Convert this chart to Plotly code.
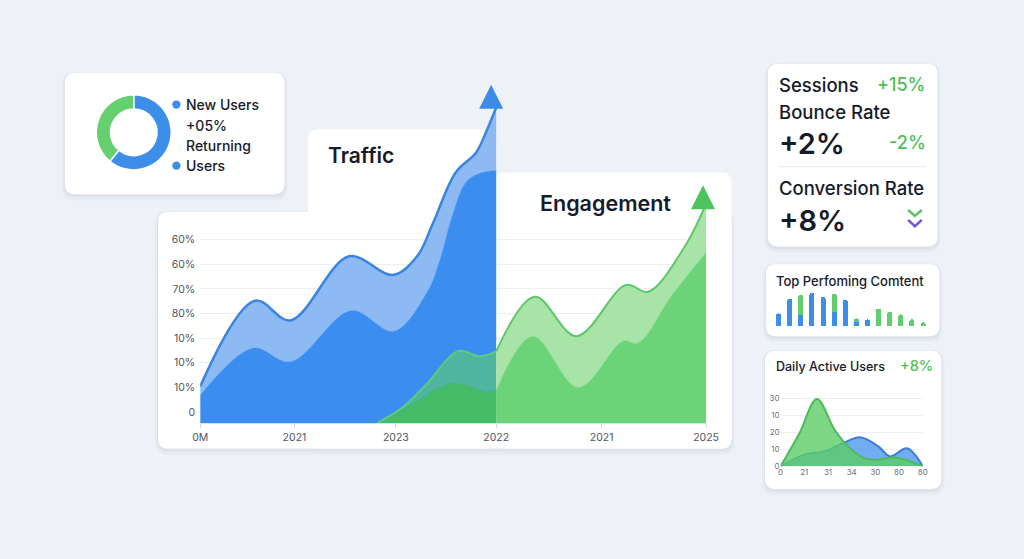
import plotly.graph_objects as go

W, H = 1024, 559

# ---------------- data: main Traffic / Engagement chart ----------------
main_x_tickvals = [0.0, 0.93, 1.93, 2.92, 3.96, 4.99]
main_x_ticktext = ["0M", "2021", "2023", "2022", "2021", "2025"]
main_y_tickvals = [0.44, 1.44, 2.44, 3.44, 4.44, 5.44, 6.44, 7.44]
main_y_ticktext = ["0", "10%", "10%", "10%", "80%", "70%", "60%", "60%"]

traffic_upper_x = [0.0, 0.54, 0.89, 1.47, 1.90, 2.14, 2.29, 2.52, 2.72, 2.83, 2.92]
traffic_upper_y = [1.48, 4.96, 4.16, 6.76, 6.00, 6.76, 8.04, 10.16, 10.96, 11.90, 12.80]
traffic_lower_x = [0.0, 0.52, 0.89, 1.49, 1.91, 2.24, 2.36, 2.48, 2.62, 2.75, 2.92]
traffic_lower_y = [1.12, 3.04, 2.48, 4.56, 3.72, 5.32, 6.56, 8.32, 9.76, 10.12, 10.24]

engage_upper_x = [1.75, 2.00, 2.23, 2.55, 2.76, 2.92, 3.30, 3.71, 4.20, 4.42, 4.78, 4.99]
engage_upper_y = [0.0, 0.64, 1.56, 2.92, 2.70, 2.90, 5.12, 3.52, 5.60, 5.32, 7.16, 8.90]
engage_lower_x = [1.78, 2.07, 2.49, 2.84, 2.92, 3.28, 3.73, 4.17, 4.32, 4.65, 4.99]
engage_lower_y = [0.0, 0.72, 1.60, 1.24, 1.32, 3.52, 1.44, 3.32, 3.24, 5.16, 6.92]
divider_x = 2.92

# ---------------- data: donut ----------------
donut_labels = ["New Users", "Returning Users"]
donut_values = [61, 39]

# ---------------- data: top performing content ----------------
tpc_blue = [13, 28, 11, 34, 30, 15, 27, 4, 7, 0, 0, 0, 0, 0]
tpc_green = [0, 0, 21, 0, 0, 18, 0, 4, 0, 18, 15, 12, 7, 4]

# ---------------- data: daily active users ----------------
dau_x_ticktext = ["0", "21", "31", "34", "30", "80", "80"]
dau_y_tickvals = [0, 10, 20, 30, 40]
dau_y_ticktext = ["0", "10", "20", "10", "30"]
dau_blue_x = [0, 1.03, 1.86, 2.57, 3.39, 4.13, 4.63, 5.33, 6.0]
dau_blue_y = [0, 7.0, 8.7, 13.3, 17.0, 11.6, 5.8, 10.6, 0]
dau_green_x = [0, 0.79, 1.53, 2.28, 2.85, 3.52, 4.10, 4.84, 6.0]
dau_green_y = [0, 19.3, 39.6, 21.4, 11.6, 4.8, 3.9, 5.2, 0]

FONT = "Inter"
DARK = "#161b2a"
GREEN_TXT = "#4cbf5c"


def px_x(v):
    return v / W


def px_y(v):
    return 1 - v / H


def rrect(x0, y0, x1, y1, r):
    def P(x, y):
        return f"{x / W:.5f},{1 - y / H:.5f}"
    return ("M" + P(x0 + r, y0) + " L" + P(x1 - r, y0) + " Q" + P(x1, y0) + " " + P(x1, y0 + r)
            + " L" + P(x1, y1 - r) + " Q" + P(x1, y1) + " " + P(x1 - r, y1)
            + " L" + P(x0 + r, y1) + " Q" + P(x0, y1) + " " + P(x0, y1 - r)
            + " L" + P(x0, y0 + r) + " Q" + P(x0, y0) + " " + P(x0 + r, y0) + " Z")


shapes = []


def card(x0, y0, x1, y1, r=10, shadow=True):
    if shadow:
        shapes.append(dict(type="path", xref="paper", yref="paper", layer="below",
                           path=rrect(x0 - 3, y0 - 1, x1 + 3, y1 + 6, r + 3),
                           fillcolor="rgba(40,60,110,0.035)", line=dict(width=0)))
        shapes.append(dict(type="path", xref="paper", yref="paper", layer="below",
                           path=rrect(x0 - 1, y0, x1 + 1, y1 + 3, r + 1),
                           fillcolor="rgba(40,60,110,0.05)", line=dict(width=0)))
    shapes.append(dict(type="path", xref="paper", yref="paper", layer="below",
                       path=rrect(x0, y0, x1, y1, r),
                       fillcolor="#ffffff", line=dict(width=0)))


# cards
card(58, 71, 282, 194)
card(153, 212, 738, 452)
card(306, 128, 498, 452, shadow=False)
card(496, 172, 738, 452, shadow=False)
card(775, 62, 948, 247)
card(773, 265, 950, 338)
card(772, 353, 952, 493)

# divider line in stats card
shapes.append(dict(type="line", xref="paper", yref="paper", layer="above",
                   x0=px_x(786), x1=px_x(936), y0=px_y(166), y1=px_y(166),
                   line=dict(color="#e4e7ec", width=1)))
# chevrons
shapes.append(dict(type="path", xref="paper", yref="paper", layer="above",
                   path=f"M{px_x(918):.5f},{px_y(210):.5f} L{px_x(925):.5f},{px_y(216):.5f} L{px_x(932):.5f},{px_y(210):.5f}",
                   line=dict(color="#58c36a", width=2.5)))
shapes.append(dict(type="path", xref="paper", yref="paper", layer="above",
                   path=f"M{px_x(918):.5f},{px_y(220):.5f} L{px_x(925):.5f},{px_y(226.5):.5f} L{px_x(932):.5f},{px_y(220):.5f}",
                   line=dict(color="#6c58d6", width=2.5)))
# legend dots
for cy in (103, 165):
    shapes.append(dict(type="circle", xref="paper", yref="paper", layer="above",
                       x0=px_x(167.5), x1=px_x(176), y0=px_y(cy + 4.2), y1=px_y(cy - 4.2),
                       fillcolor="#3d8ee8", line=dict(width=0)))

fig = go.Figure()

# ---- main chart traces ----
fig.add_trace(go.Scatter(x=traffic_lower_x, y=traffic_lower_y, mode="lines",
                         line=dict(shape="spline", color="#3b8ef0", width=0.5),
                         fill="tozeroy", fillcolor="#3b8ef0", xaxis="x", yaxis="y"))
fig.add_trace(go.Scatter(x=traffic_upper_x, y=traffic_upper_y, mode="lines",
                         line=dict(shape="spline", color="#3a84e4", width=2.5),
                         fill="tonexty", fillcolor="#8dbaf3", xaxis="x", yaxis="y"))


def split(xs, ys, left=True):
    px, py = [], []
    for a, b in zip(xs, ys):
        if (left and a <= divider_x) or (not left and a >= divider_x):
            px.append(a)
            py.append(b)
    return px, py


for side, lower_col, band_col, line_col in ((True, "#44bb66", "#50b5a0", "#5dcb7a"),
                                             (False, "#6bd479", "#a8e3a7", "#5cc86a")):
    lx, ly = split(engage_lower_x, engage_lower_y, side)
    ux, uy = split(engage_upper_x, engage_upper_y, side)
    fig.add_trace(go.Scatter(x=lx, y=ly, mode="lines",
                             line=dict(shape="spline", color=lower_col, width=0.5),
                             fill="tozeroy", fillcolor=lower_col, xaxis="x", yaxis="y"))
    fig.add_trace(go.Scatter(x=ux, y=uy, mode="lines",
                             line=dict(shape="spline", color=line_col, width=2),
                             fill="tonexty", fillcolor=band_col, xaxis="x", yaxis="y"))

# arrow heads at the ends of the upper lines
fig.add_trace(go.Scatter(x=[traffic_upper_x[-1] - 0.05], y=[traffic_upper_y[-1] + 0.92],
                         mode="markers", cliponaxis=False,
                         marker=dict(symbol="arrow-up", size=24, color="#3d8be9", line=dict(width=0)),
                         xaxis="x", yaxis="y"))
fig.add_trace(go.Scatter(x=[engage_upper_x[-1] - 0.03], y=[engage_upper_y[-1] + 0.74],
                         mode="markers", cliponaxis=False,
                         marker=dict(symbol="arrow-up", size=24, color="#4cc55e", line=dict(width=0)),
                         xaxis="x", yaxis="y"))

# ---- donut ----
fig.add_trace(go.Pie(labels=donut_labels, values=donut_values, hole=0.62, sort=False,
                     direction="clockwise", rotation=0, textinfo="none",
                     marker=dict(colors=["#3d8ee8", "#66d06e"], line=dict(color="white", width=1.5)),
                     domain=dict(x=[px_x(90), px_x(166.5)], y=[px_y(169.5), px_y(93)]),
                     hoverinfo="skip", showlegend=False))

# ---- top performing content bars ----
idx = list(range(len(tpc_blue)))
fig.add_trace(go.Bar(x=idx, y=tpc_blue, width=0.45, marker=dict(color="#3d8ee8", line=dict(width=0)),
                     xaxis="x3", yaxis="y3"))
fig.add_trace(go.Bar(x=idx, y=tpc_green, width=0.45, marker=dict(color="#62cd6e", line=dict(width=0)),
                     xaxis="x3", yaxis="y3"))

# ---- daily active users ----
fig.add_trace(go.Scatter(x=dau_blue_x, y=dau_blue_y, mode="lines",
                         line=dict(shape="spline", color="#3b7fd8", width=2),
                         fill="tozeroy", fillcolor="rgba(60,140,235,0.72)", xaxis="x2", yaxis="y2"))
fig.add_trace(go.Scatter(x=dau_green_x, y=dau_green_y, mode="lines",
                         line=dict(shape="spline", color="#4cbc5b", width=2),
                         fill="tozeroy", fillcolor="rgba(92,205,102,0.8)", xaxis="x2", yaxis="y2"))


def txt(s, x, y, size, color=DARK, anchor="left", weight=500):
    return dict(text=s, x=px_x(x), y=px_y(y), xref="paper", yref="paper",
                xanchor=anchor, yanchor="middle", showarrow=False,
                font=dict(size=size, color=color, family=FONT, weight=weight))


annotations = [
    txt("New Users", 179, 103, 14),
    txt("+05%", 179, 124, 14),
    txt("Returning", 179, 145, 14),
    txt("Users", 179, 165, 14),
    txt("Traffic", 324, 155, 21, weight=600),
    txt("Engagement", 541, 203, 21.5, weight=600),
    txt("Sessions", 784, 83, 18.5),
    txt("+15%", 938, 83, 18, color=GREEN_TXT, anchor="right"),
    txt("Bounce Rate", 784, 111, 18.5),
    txt("+2%", 784, 143, 29, weight=600),
    txt("-2%", 938, 142, 18, color=GREEN_TXT, anchor="right"),
    txt("Conversion Rate", 784, 188, 18.5),
    txt("+8%", 784, 221, 29, weight=600),
    txt("Top Perfoming Comtent", 781, 282, 13),
    txt("Daily Active Users", 781, 369, 12.5),
    txt("+8%", 945, 368, 14.5, color=GREEN_TXT, anchor="right"),
]

fig.update_layout(
    width=W, height=H, autosize=False,
    margin=dict(l=0, r=0, t=0, b=0),
    paper_bgcolor="#eef1f6", plot_bgcolor="rgba(0,0,0,0)",
    showlegend=False, hovermode=False,
    font=dict(family=FONT, color=DARK),
    barmode="stack", barcornerradius=2.5,
    shapes=shapes, annotations=annotations,
    xaxis=dict(domain=[px_x(196), px_x(713)], range=[0, 5.0],
               tickvals=main_x_tickvals, ticktext=main_x_ticktext,
               tickfont=dict(size=10.5, color="#50555f"),
               showline=True, linecolor="#dde1e7", linewidth=1,
               ticks="outside", ticklen=4, tickcolor="#d3d8df",
               showgrid=False, zeroline=False, fixedrange=True),
    yaxis=dict(domain=[px_y(426), px_y(76)], range=[0, 14.0],
               tickvals=main_y_tickvals, ticktext=main_y_ticktext,
               tickfont=dict(size=10.5, color="#50555f"),
               showgrid=True, gridcolor="#eceef2", gridwidth=1,
               showline=False, zeroline=False, ticks="", ticklabelstandoff=4, fixedrange=True),
    xaxis2=dict(domain=[px_x(788), px_x(933)], range=[0, 6], anchor="y2",
                tickvals=list(range(len(dau_x_ticktext))), ticktext=dau_x_ticktext,
                tickfont=dict(size=8, color="#6b7280"),
                showgrid=False, zeroline=False, showline=False, ticks="", fixedrange=True),
    yaxis2=dict(domain=[px_y(470), px_y(399)], range=[0, 41.2], anchor="x2",
                tickvals=dau_y_tickvals, ticktext=dau_y_ticktext,
                tickfont=dict(size=8, color="#6b7280"),
                showgrid=True, gridcolor="#eceef2", zeroline=False, showline=False,
                ticks="", fixedrange=True),
    xaxis3=dict(domain=[px_x(780.3), px_x(939)], range=[-0.5, 13.5], anchor="y3",
                visible=False, fixedrange=True),
    yaxis3=dict(domain=[px_y(328), px_y(292)], range=[0, 36], anchor="x3",
                visible=False, fixedrange=True),
)

fig.write_html(
    "out.html",
    config={"responsive": False, "displayModeBar": False, "staticPlot": True},
    post_script=("document.body.style.margin='0';document.body.style.overflow='hidden';"
                 "Plotly.relayout('{plot_id}', {width: %d, height: %d});" % (W, H)),
)
